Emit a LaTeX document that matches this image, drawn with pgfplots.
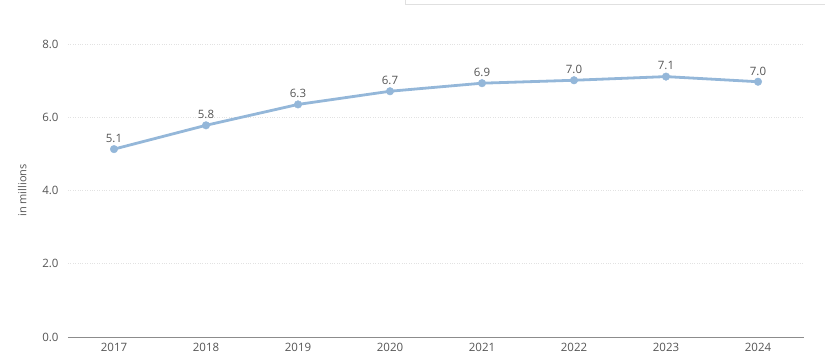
\documentclass[border=0pt]{standalone}
\usepackage{pgfplots}
\pgfplotsset{compat=1.18}
\usepackage{fontspec}
\setmainfont{Open Sans}
\definecolor{linec}{HTML}{94B7D9}
\definecolor{txt}{HTML}{555555}
\definecolor{gridc}{HTML}{E2E2E2}
\begin{document}
\begin{tikzpicture}[x=1pt,y=1pt]
\path[use as bounding box] (0,0) rectangle (825,362);
\draw[color=black!12, line width=0.8pt] (405.5,362) -- (405.5,357.5) -- (825,357.5);
\begin{axis}[
  at={(68pt,25pt)}, anchor=south west,
  scale only axis, width=736pt, height=293pt,
  xmin=-0.5, xmax=7.5, ymin=0, ymax=8,
  xtick={0,...,7},
  xticklabels={2017,2018,2019,2020,2021,2022,2023,2024},
  ytick={0,2,4,6,8},
  yticklabel style={xshift=-6pt, /pgf/number format/.cd, fixed, fixed zerofill, precision=1},
  /pgf/number format/assume math mode=true,
  axis lines=left,
  x axis line style={color=black!45, line width=0.8pt, -},
  y axis line style={draw=none},
  ymajorgrids, grid style={color=gridc, dotted, line width=0.8pt},
  major tick length=0pt,
  tick label style={font=\fontsize{11.5}{13}\selectfont, text=txt},
  xticklabel style={yshift=-3pt},
  ylabel={in millions},
  ylabel style={font=\fontsize{11}{13}\selectfont, text=txt, yshift=9pt},
  clip=false,
  nodes near coords,
  nodes near coords style={font=\fontsize{11.5}{13}\selectfont, text=txt, yshift=3pt, /pgf/number format/.cd, fixed, fixed zerofill, precision=1},
  point meta=explicit,
]
\addplot[color=linec, line width=2.8pt, mark=*, mark size=3.8pt, mark options={solid, fill=linec, draw=linec, line width=0.4pt}]
  coordinates {(0,5.13)[5.1] (1,5.78)[5.8] (2,6.35)[6.3] (3,6.71)[6.7] (4,6.93)[6.9] (5,7.01)[7.0] (6,7.11)[7.1] (7,6.97)[7.0]};
\end{axis}
\end{tikzpicture}
\end{document}
